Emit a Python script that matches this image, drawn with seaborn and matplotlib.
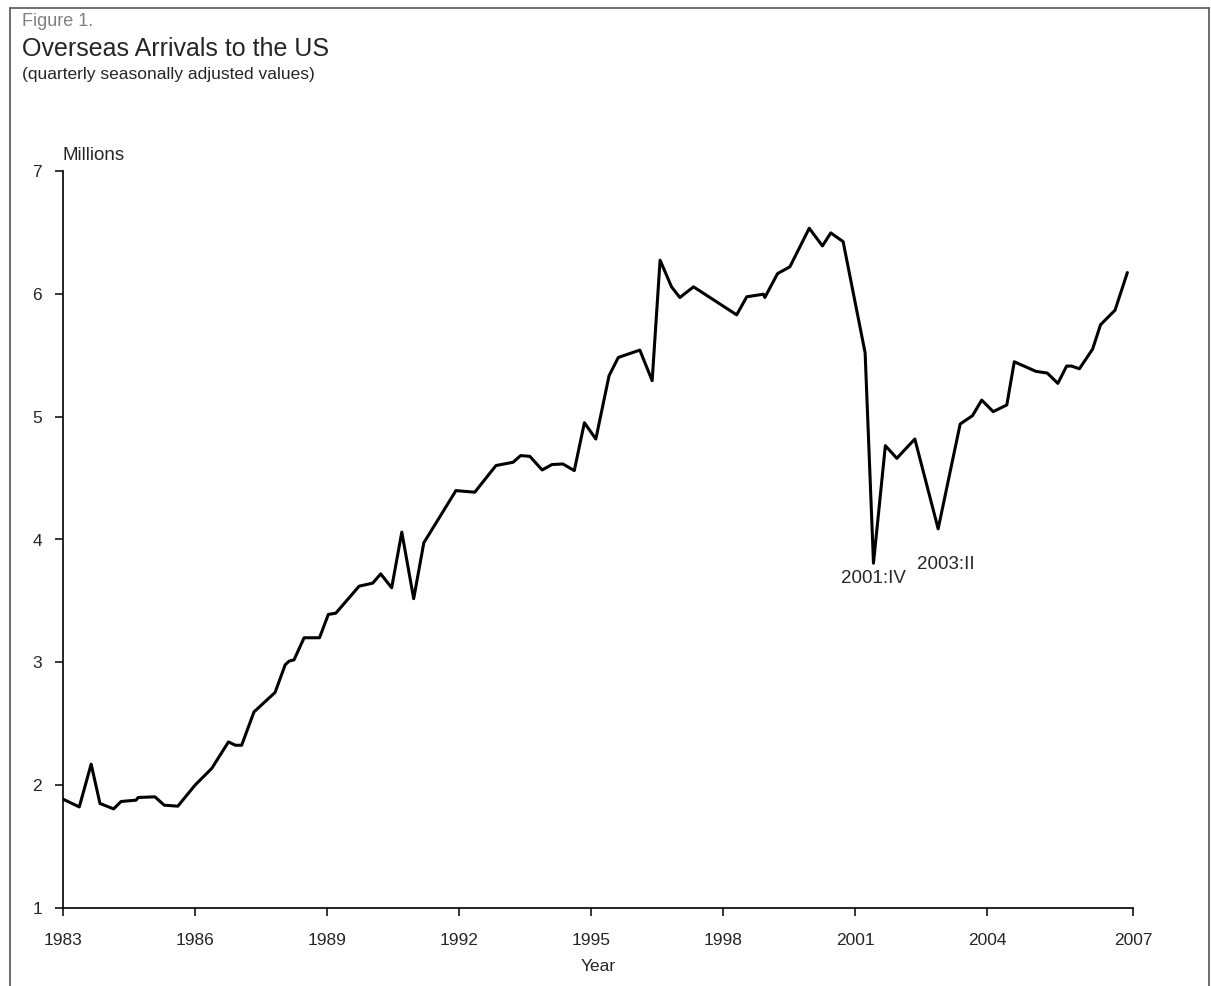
import matplotlib
matplotlib.use("Agg")
import matplotlib.pyplot as plt
import seaborn as sns
import pandas as pd
from matplotlib.lines import Line2D

# quarterly seasonally adjusted overseas arrivals (millions)
years = [1983.00, 1983.37, 1983.64, 1983.84, 1984.15, 1984.32, 1984.66, 1984.71,
         1985.09, 1985.30, 1985.61, 1986.00, 1986.38, 1986.76, 1986.92, 1987.06,
         1987.34, 1987.82, 1988.05, 1988.14, 1988.25, 1988.48, 1988.83, 1989.03,
         1989.20, 1989.73, 1990.04, 1990.22, 1990.47, 1990.70, 1990.97, 1991.20,
         1991.93, 1992.36, 1992.48, 1992.84, 1993.23, 1993.40, 1993.61, 1993.89,
         1994.11, 1994.36, 1994.62, 1994.85, 1995.11, 1995.41, 1995.62, 1996.11,
         1996.39, 1996.57, 1996.83, 1997.02, 1997.33, 1998.31, 1998.54, 1998.92,
         1998.95, 1999.24, 1999.52, 1999.96, 2000.26, 2000.45, 2000.73, 2001.23,
         2001.42, 2001.69, 2001.95, 2002.36, 2002.89, 2003.39, 2003.67, 2003.88,
         2004.14, 2004.45, 2004.62, 2005.11, 2005.37, 2005.61, 2005.81, 2005.92,
         2006.10, 2006.40, 2006.58, 2006.91, 2007.19]
arrivals = [1.886, 1.823, 2.171, 1.851, 1.807, 1.867, 1.878, 1.900,
            1.905, 1.837, 1.829, 2.000, 2.136, 2.352, 2.325, 2.325,
            2.596, 2.755, 2.980, 3.010, 3.020, 3.200, 3.200, 3.390,
            3.400, 3.620, 3.645, 3.720, 3.607, 4.060, 3.518, 3.973,
            4.398, 4.385, 4.440, 4.602, 4.629, 4.683, 4.677, 4.566,
            4.610, 4.615, 4.561, 4.951, 4.818, 5.333, 5.482, 5.542,
            5.293, 6.274, 6.057, 5.970, 6.057, 5.829, 5.976, 5.997,
            5.970, 6.165, 6.220, 6.534, 6.390, 6.496, 6.425, 5.520,
            3.807, 4.764, 4.661, 4.818, 4.087, 4.940, 5.008, 5.135,
            5.041, 5.095, 5.447, 5.369, 5.355, 5.271, 5.412, 5.412,
            5.390, 5.550, 5.748, 5.867, 6.173]

tick_years = [1983, 1986, 1989, 1992, 1995, 1998, 2001, 2004, 2007]
y_ticks = [1, 2, 3, 4, 5, 6, 7]
notes = ["2001:IV", "2003:II"]
note_x = [2001.43, 2003.07]
note_y = [3.68, 3.80]

df = pd.DataFrame({"Year": years, "Arrivals": arrivals})

sns.set_style("ticks")
plt.rcParams['font.family'] = ['Liberation Sans', 'DejaVu Sans']

fig = plt.figure(figsize=(12.11, 9.86), dpi=100)
W, H = 1211, 986
x_end = 1983 + 1070 / 44
ax = fig.add_axes([63 / W, 1 - 908 / H, 1070 / W, 737 / H])

sns.lineplot(data=df, x="Year", y="Arrivals", ax=ax, color="black",
             linewidth=2.2, sort=False, estimator=None)

ax.set_xlim(1983, x_end)
ax.set_ylim(1, 7)
xt = tick_years[:-1] + [x_end]
ax.set_xticks(xt)
ax.set_xticklabels([str(t) for t in tick_years])
ax.set_yticks(y_ticks)
ax.tick_params(axis='both', labelsize=12.5, length=6, width=1.1, color='black')
ax.tick_params(axis='y', pad=9)
ax.tick_params(axis='x', pad=12)
for s in ['top', 'right']:
    ax.spines[s].set_visible(False)
for s in ['left', 'bottom']:
    ax.spines[s].set_linewidth(1.2)
    ax.spines[s].set_color('black')
ax.set_xlabel("Year", fontsize=12.5, labelpad=8)
ax.set_ylabel("")

for t, xx, yy in zip(notes, note_x, note_y):
    ax.text(xx, yy, t, ha='center', va='center', fontsize=13.5)

fig.text(22 / W, 1 - 22 / H, "Figure 1.", fontsize=13, color='#808080', va='center')
fig.text(22 / W, 1 - 49 / H, "Overseas Arrivals to the US", fontsize=18, va='center')
fig.text(22 / W, 1 - 75 / H, "(quarterly seasonally adjusted values)", fontsize=12.5, va='center')
fig.text(62 / W, 1 - 155 / H, "Millions", fontsize=13.5, va='center')

# frame around the figure (open at the bottom)
fc = '#555555'
fig.add_artist(Line2D([10 / W, 10 / W], [0, 1 - 8 / H], transform=fig.transFigure, color=fc, lw=1.2))
fig.add_artist(Line2D([10 / W, 1209 / W], [1 - 8 / H, 1 - 8 / H], transform=fig.transFigure, color=fc, lw=1.2))
fig.add_artist(Line2D([1209 / W, 1209 / W], [0, 1 - 8 / H], transform=fig.transFigure, color=fc, lw=1.2))

fig.savefig("out.png", dpi=100)
